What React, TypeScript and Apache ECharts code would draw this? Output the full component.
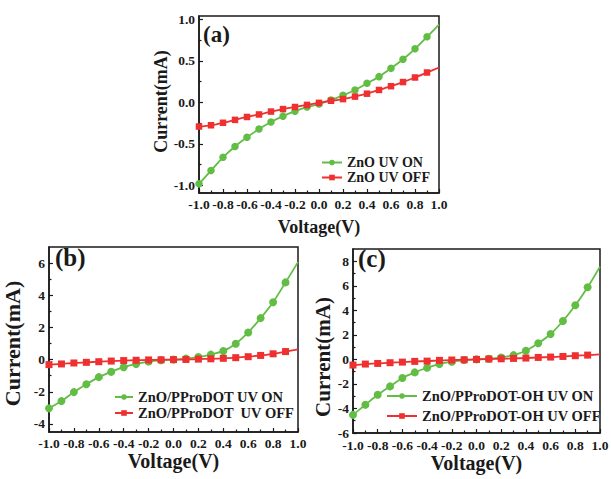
import React, { useEffect, useRef } from "react";
import * as echarts from "echarts";

const voltage = [-1.0, -0.9, -0.8, -0.7, -0.6, -0.5, -0.4, -0.3, -0.2, -0.1, 0.0, 0.1, 0.2, 0.3, 0.4, 0.5, 0.6, 0.7, 0.8, 0.9, 1.0];

const znoOn = [-0.98, -0.82, -0.66, -0.53, -0.42, -0.32, -0.235, -0.165, -0.105, -0.056, -0.02, 0.03, 0.085, 0.15, 0.23, 0.31, 0.41, 0.52, 0.645, 0.79, 0.935];
const znoOff = [-0.29, -0.275, -0.245, -0.21, -0.175, -0.145, -0.11, -0.08, -0.055, -0.03, -0.005, 0.02, 0.04, 0.07, 0.105, 0.15, 0.195, 0.245, 0.3, 0.36, 0.42];

const pprodotOn = [-3.03, -2.58, -2.02, -1.53, -1.09, -0.76, -0.47, -0.27, -0.12, -0.04, 0.0, 0.06, 0.16, 0.31, 0.54, 0.99, 1.69, 2.58, 3.57, 4.8, 6.06];
const pprodotOff = [-0.31, -0.27, -0.21, -0.17, -0.13, -0.09, -0.06, -0.04, -0.02, -0.01, 0.0, 0.01, 0.03, 0.05, 0.08, 0.12, 0.18, 0.26, 0.36, 0.5, 0.64];

const pprodotOhOn = [-4.52, -3.7, -2.88, -2.2, -1.52, -1.06, -0.68, -0.38, -0.19, -0.05, 0.0, 0.05, 0.16, 0.35, 0.71, 1.31, 2.07, 3.13, 4.41, 5.88, 7.56];
const pprodotOhOff = [-0.46, -0.38, -0.33, -0.27, -0.22, -0.16, -0.14, -0.08, -0.05, -0.03, 0.0, 0.03, 0.05, 0.08, 0.11, 0.16, 0.19, 0.24, 0.3, 0.35, 0.41];

const xTickLabels = [-1.0, -0.8, -0.6, -0.4, -0.2, 0.0, 0.2, 0.4, 0.6, 0.8, 1.0];
const xMinorTicks = [-0.9, -0.7, -0.5, -0.3, -0.1, 0.1, 0.3, 0.5, 0.7, 0.9];
const yTickLabelsA = [-1.0, -0.5, 0.0, 0.5, 1.0];
const yMinorTicksA = [-0.75, -0.25, 0.25, 0.75];
const yTickLabelsB = [-4, -2, 0, 2, 4, 6];
const yMinorTicksB = [-3, -1, 1, 3, 5];
const yTickLabelsC = [-6, -4, -2, 0, 2, 4, 6, 8];
const yMinorTicksC = [-5, -3, -1, 1, 3, 5, 7];

const namesA = ["ZnO UV ON", "ZnO UV OFF"];
const namesB = ["ZnO/PProDOT UV ON", "ZnO/PProDOT  UV OFF"];
const namesC = ["ZnO/PProDOT-OH UV ON", "ZnO/PProDOT-OH UV OFF"];

const FONT = '"Liberation Serif", "Times New Roman", serif';
const GREEN = "#62bd45";
const RED = "#ee3030";
const INK = "#1a1a1a";

function mkSeries(name: string, ys: number[], gi: number, color: string, symbol: string, size: number, z: number) {
  return {
    type: "line",
    name,
    xAxisIndex: gi,
    yAxisIndex: gi,
    smooth: 0.3,
    symbol,
    symbolSize: size,
    showSymbol: true,
    z,
    lineStyle: { color, width: 1.8 },
    itemStyle: { color },
    data: voltage.map((v, i) =>
      i === voltage.length - 1 ? { value: [v, ys[i]], symbol: "none" } : [v, ys[i]]
    ),
  };
}

function xMain(gi: number, nameGap: number, nameSize: number, margin: number) {
  return {
    type: "value",
    gridIndex: gi,
    position: "bottom",
    min: -1,
    max: 1,
    name: "Voltage(V)",
    nameLocation: "middle",
    nameGap,
    nameTextStyle: { fontFamily: FONT, fontWeight: "bold", fontSize: nameSize, color: INK },
    axisLine: { show: true, onZero: false, lineStyle: { color: INK, width: 1.5 } },
    axisTick: { show: true, inside: true, length: 4, customValues: xTickLabels, lineStyle: { color: INK, width: 1.2 } },
    axisLabel: {
      show: true,
      customValues: xTickLabels,
      margin,
      lineHeight: 13,
      formatter: (v: number) => v.toFixed(1),
      fontFamily: FONT,
      fontWeight: "bold",
      fontSize: 13.5,
      color: INK,
    },
    splitLine: { show: false },
  };
}

function xMinor(gi: number) {
  return {
    type: "value",
    gridIndex: gi,
    position: "bottom",
    min: -1,
    max: 1,
    axisLine: { show: false, onZero: false },
    axisTick: { show: true, inside: true, length: 2.5, customValues: xMinorTicks, lineStyle: { color: INK, width: 1.2 } },
    axisLabel: { show: false },
    splitLine: { show: false },
  };
}

function yMain(gi: number, min: number, max: number, labels: number[], fmt: (v: number) => string, nameGap: number, nameSize: number, pad: number[]) {
  return {
    type: "value",
    gridIndex: gi,
    position: "left",
    min,
    max,
    name: "Current(mA)",
    nameLocation: "middle",
    nameGap,
    nameTextStyle: { fontFamily: FONT, fontWeight: "bold", fontSize: nameSize, color: INK, padding: pad },
    axisLine: { show: true, onZero: false, lineStyle: { color: INK, width: 1.5 } },
    axisTick: { show: true, inside: true, length: 4, customValues: labels, lineStyle: { color: INK, width: 1.2 } },
    axisLabel: {
      show: true,
      customValues: labels,
      margin: 4,
      lineHeight: 12,
      formatter: fmt,
      fontFamily: FONT,
      fontWeight: "bold",
      fontSize: 13.5,
      color: INK,
    },
    splitLine: { show: false },
  };
}

function yMinor(gi: number, min: number, max: number, ticks: number[]) {
  return {
    type: "value",
    gridIndex: gi,
    position: "left",
    min,
    max,
    axisLine: { show: false, onZero: false },
    axisTick: { show: true, inside: true, length: 2.5, customValues: ticks, lineStyle: { color: INK, width: 1.2 } },
    axisLabel: { show: false },
    splitLine: { show: false },
  };
}

function mkLegend(names: string[], left: number, top: number, itemWidth: number, lineHeight: number, itemGap: number, fontSize: number) {
  return {
    data: names,
    orient: "vertical",
    left,
    top,
    itemWidth,
    itemHeight: 7,
    itemGap,
    padding: 0,
    selectedMode: false,
    textStyle: { fontFamily: FONT, fontWeight: "bold", fontSize, color: INK, lineHeight },
  };
}

export default function App() {
  const ref = useRef<HTMLDivElement>(null);
  useEffect(() => {
    if (!ref.current) return;
    const chart = echarts.init(ref.current, null, { renderer: "svg" });
    const gridBase = { show: true, borderColor: INK, borderWidth: 1.5, backgroundColor: "transparent", outerBoundsMode: "none", containLabel: false };
    const fmt1 = (v: number) => v.toFixed(1);
    const fmt0 = (v: number) => String(Math.round(v));
    chart.setOption({
      animation: false,
      backgroundColor: "#ffffff",
      grid: [
        { ...gridBase, left: 199, top: 16, width: 240, height: 177 },
        { ...gridBase, left: 49, top: 247, width: 249, height: 185 },
        { ...gridBase, left: 353, top: 249, width: 247, height: 184 },
      ],
      xAxis: [xMain(0, 25, 18, 5), xMain(1, 17, 20, 5), xMain(2, 17, 20, 6), xMinor(0), xMinor(1), xMinor(2)],
      yAxis: [
        yMain(0, -1.09, 1.04, yTickLabelsA, fmt1, 29, 18, [0, 0, 0, 6]),
        yMain(1, -4.5, 7, yTickLabelsB, fmt0, 26, 22, [0, 8, 0, 0]),
        yMain(2, -6, 9, yTickLabelsC, fmt0, 17, 21, [0, 32, 0, 0]),
        yMinor(0, -1.09, 1.04, yMinorTicksA),
        yMinor(1, -4.5, 7, yMinorTicksB),
        yMinor(2, -6, 9, yMinorTicksC),
      ],
      legend: [
        mkLegend(namesA, 321, 155, 20, 15, 0, 14),
        mkLegend(namesB, 114, 389, 18, 16, 0, 14.5),
        mkLegend(namesC, 386, 388, 30, 16, 4, 14.5),
      ],
      graphic: [
        { type: "text", x: 203, y: 34, style: { text: "(a)", fontFamily: FONT, fontWeight: "bold", fontSize: 23, fill: INK, verticalAlign: "middle" } },
        { type: "text", x: 55, y: 257, style: { text: "(b)", fontFamily: FONT, fontWeight: "bold", fontSize: 25, fill: INK, verticalAlign: "middle" } },
        { type: "text", x: 358, y: 258, style: { text: "(c)", fontFamily: FONT, fontWeight: "bold", fontSize: 25, fill: INK, verticalAlign: "middle" } },
      ],
      series: [
        mkSeries(namesA[0], znoOn, 0, GREEN, "circle", 7.5, 2),
        mkSeries(namesA[1], znoOff, 0, RED, "rect", 6.5, 3),
        mkSeries(namesB[0], pprodotOn, 1, GREEN, "circle", 8, 2),
        mkSeries(namesB[1], pprodotOff, 1, RED, "rect", 7, 3),
        mkSeries(namesC[0], pprodotOhOn, 2, GREEN, "circle", 8, 2),
        mkSeries(namesC[1], pprodotOhOff, 2, RED, "rect", 7, 3),
      ],
    });
    return () => chart.dispose();
  }, []);
  return (
    <div
      ref={ref}
      style={{ position: "absolute", left: 0, top: 0, width: 611, height: 479, background: "#fff" }}
    />
  );
}
